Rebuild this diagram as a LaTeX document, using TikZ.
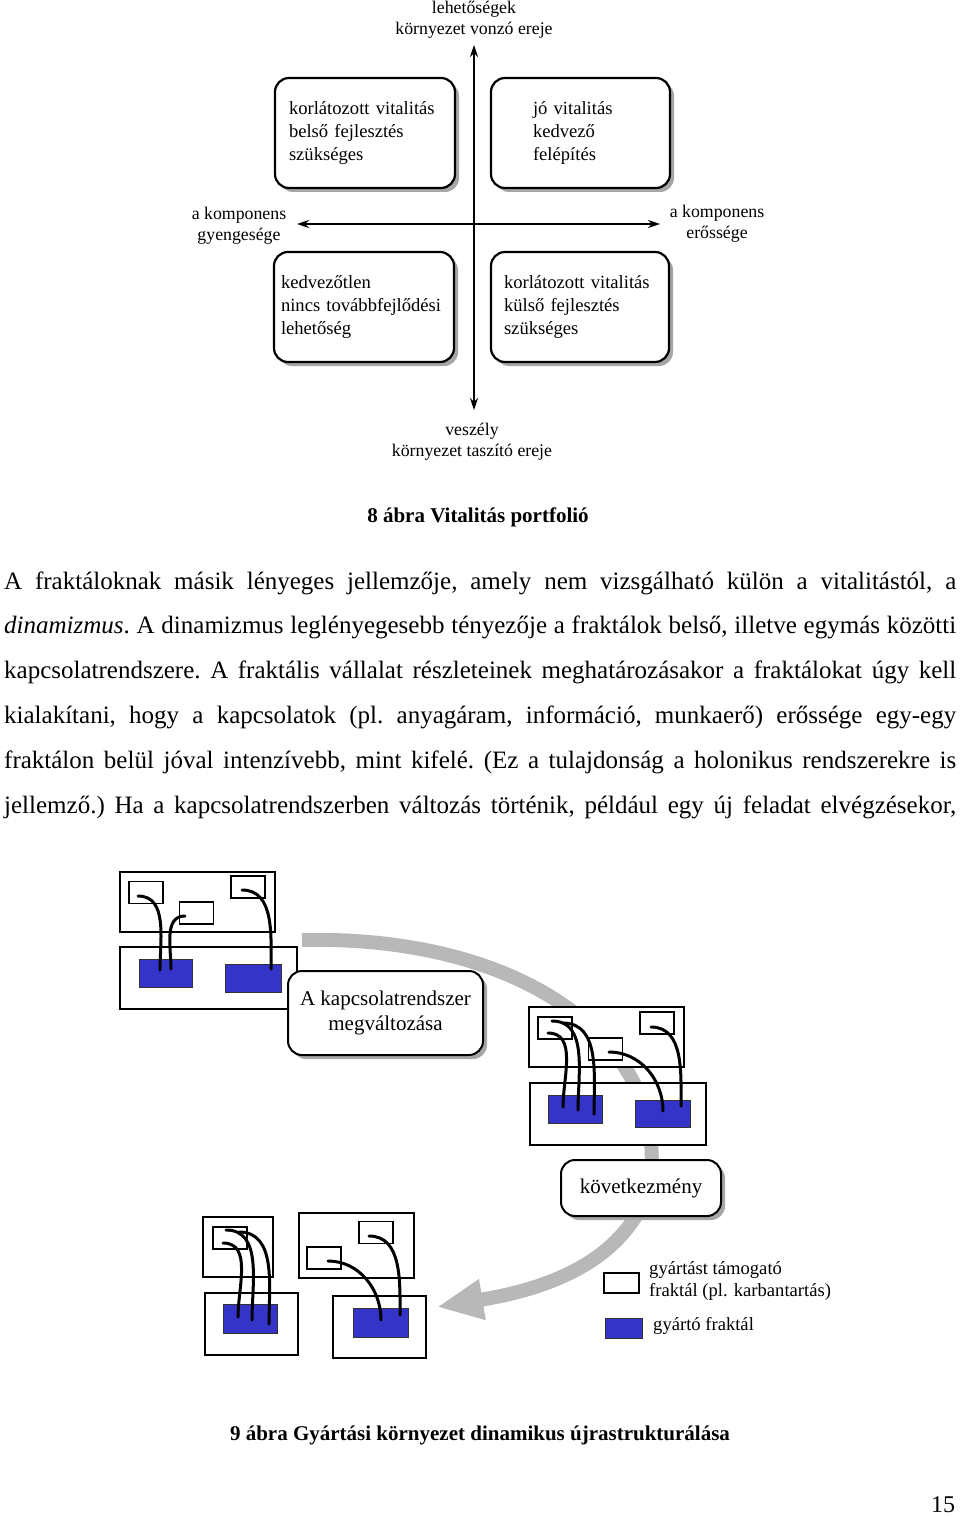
\documentclass[tikz,border=0pt]{standalone}
\usepackage{fontspec}
\setmainfont{Liberation Serif}
\usetikzlibrary{arrows.meta,shadows}
\definecolor{Gyarto}{HTML}{3434C8}
\definecolor{Sav}{HTML}{B8B8B8}
\definecolor{Arnyek}{HTML}{A6A6A6}

\begin{document}
\begin{tikzpicture}[x=1pt,y=-1pt,
  lbl/.style={font=\fontsize{17.8}{21}\selectfont,align=center,inner sep=0},
  qbox/.style={draw,line width=2.2pt,rounded corners=14pt,fill=white,
    minimum width=#1,minimum height=110pt,inner sep=0,align=left,
    font=\fontsize{18.6}{23}\selectfont,
    drop shadow={shadow xshift=4pt,shadow yshift=-4pt,fill=Arnyek,opacity=1}},
  tbox/.style 2 args={draw,line width=2pt,rounded corners=14pt,fill=white,
    minimum width=#1,minimum height=#2,inner sep=0,align=center,
    font=\fontsize{21}{25}\selectfont,
    drop shadow={shadow xshift=4pt,shadow yshift=-4pt,fill=Arnyek,opacity=1}},
  axis/.style={line width=1.4pt,{Stealth[length=12pt,width=8pt]}-{Stealth[length=12pt,width=8pt]}},
  felirat/.style={font=\bfseries\fontsize{21}{25}\selectfont,inner sep=0},
  fr/.style 2 args={draw,fill=white,line width=1.4pt,minimum width=#1,minimum height=#2,inner sep=0},
  sb/.style={draw,fill=white,line width=1.2pt,minimum width=34pt,minimum height=22pt,inner sep=0},
  gy/.style 2 args={draw=black!80,fill=Gyarto,line width=1pt,minimum width=#1,minimum height=#2,inner sep=0},
  link/.style={line width=3pt,line cap=round}]
  \fill[white] (0,0) rectangle (960,1517);
  \useasboundingbox (0,0) rectangle (960,1517);

  % 8. abra: portfolio
  \coordinate (ftop) at (474,45);
  \coordinate (fbot) at (474,410);
  \coordinate (hbal) at (297,224);
  \coordinate (hjobb) at (660,224);
  \draw[axis] (fbot) -- (ftop);
  \draw[axis] (hbal) -- (hjobb);
  \node[lbl] (fel) at (474,20) {lehetőségek\\környezet vonzó ereje};
  \node[lbl] (le) at (472,442) {veszély\\környezet taszító ereje};
  \node[lbl] (gyenge) at (239,225.5) {a komponens\\gyengesége};
  \node[lbl] (eros) at (717,223.5) {a komponens\\erőssége};
  \node[qbox=180pt,text width=152pt] (bf) at (365,133) {korlátozott vitalitás\\belső fejlesztés\\szükséges};
  \node[qbox=179pt,text width=95pt] (jf) at (580.5,133) {jó vitalitás\\kedvező\\felépítés};
  \node[qbox=180pt,text width=166pt] (ba) at (364,307) {kedvezőtlen\\nincs továbbfejlődési\\lehetőség};
  \node[qbox=178pt,text width=152pt] (ja) at (580,307) {korlátozott vitalitás\\külső fejlesztés\\szükséges};
  \node[felirat] (abra8) at (478,517) {8 ábra Vitalitás portfolió};

  \node[anchor=base west,inner sep=0,text width=952pt,align=justify,
    font=\fontsize{25}{44.8}\selectfont] (szoveg) at (4,589)
    {\parindent=0pt\frenchspacing\hyphenpenalty=10000\exhyphenpenalty=10000\parfillskip=0pt
    A fraktáloknak másik lényeges jellemzője, amely nem vizsgálható külön a vitalitástól, a\linebreak
    \textit{dinamizmus}. A dinamizmus leglényegesebb tényezője a fraktálok belső, illetve egymás közötti\linebreak
    kapcsolatrendszere. A fraktális vállalat részleteinek meghatározásakor a fraktálokat úgy kell\linebreak
    kialakítani, hogy a kapcsolatok (pl. anyagáram, információ, munkaerő) erőssége egy-egy\linebreak
    fraktálon belül jóval intenzívebb, mint kifelé. (Ez a tulajdonság a holonikus rendszerekre is\linebreak
    jellemző.) Ha a kapcsolatrendszerben változás történik, például egy új feladat elvégzésekor,\par};

  % 9. abra: ujrastrukturalas
  \coordinate (sav1) at (302,940);
  \coordinate (sav2) at (437,1307);
  \draw[Sav,line width=14pt,-{Triangle[length=46pt,width=38pt]}]
    (sav1) .. controls (520,935) and (670,1040) .. (650,1185)
    .. controls (625,1265) and (540,1290) .. (sav2);

  \node[fr={155pt}{60pt}] (o1) at (197.5,902) {};
  \node[fr={177pt}{62pt}] (o2) at (208.5,978) {};
  \node[fr={155pt}{60pt}] (o3) at (606.5,1037) {};
  \node[fr={176pt}{62pt}] (o4) at (618,1114) {};
  \node[fr={70pt}{60pt}] (o5) at (238,1247) {};
  \node[fr={93pt}{62pt}] (o6) at (251.5,1324) {};
  \node[fr={115pt}{65pt}] (o7) at (356.5,1245.5) {};
  \node[fr={93pt}{62pt}] (o8) at (379.5,1327) {};

  \node[sb] (s1) at (146,892.5) {};
  \node[sb] (s2) at (196.5,913) {};
  \node[sb] (s3) at (248,887) {};
  \node[sb] (s4) at (555,1028) {};
  \node[sb] (s5) at (605.5,1049) {};
  \node[sb] (s6) at (657,1023) {};
  \node[sb] (s7) at (230,1238) {};
  \node[sb] (s8) at (324,1258) {};
  \node[sb] (s9) at (376,1232.5) {};

  \node[gy={53pt}{28pt}] (b1) at (165.5,973) {};
  \node[gy={56pt}{28pt}] (b2) at (253,978) {};
  \node[gy={54pt}{28pt}] (b3) at (575,1109) {};
  \node[gy={55pt}{27pt}] (b4) at (662.5,1113.5) {};
  \node[gy={54pt}{29pt}] (b5) at (250,1318.5) {};
  \node[gy={55pt}{29pt}] (b6) at (380.5,1322.5) {};

  \foreach \a/\ax/\ay/\b/\bx/\by/\o in {
    s1/-8/3.5/b1/-5.5/-3/0, s2/-11.5/3/b1/5.5/-4/180, s3/-6/3/b2/18/-9/0,
    s4/-7/5/b3/-12/-2/0, s4/-3/-7/b3/3/1/0, s4/8/-5/b3/19/5/0,
    s5/3.5/3/b4/0.5/-2.5/0, s6/-6/4/b4/18.5/-7.5/0,
    s7/-7/5/b5/-12/-1.5/0, s7/-4/-8/b5/2/1.5/0, s7/9/-6/b5/19/5.5/0,
    s8/4/3/b6/0.5/-2.5/0, s9/-7/3.5/b6/19.5/-7.5/0}
    \draw[link] ([shift={(\ax,\ay)}]\a.center) to[out=\o,in=90] ([shift={(\bx,\by)}]\b.center);

  \node[tbox={195pt}{84pt}] (valt) at (385.5,1013) {A kapcsolatrendszer\\megváltozása};
  \node[tbox={160pt}{56pt}] (kov) at (641,1188) {következmény};

  \node[sb,minimum width=35pt,minimum height=20pt] (jelf) at (621.5,1283) {};
  \node[gy={37pt}{20pt}] (jelk) at (623.5,1328) {};
  \node[lbl,font=\fontsize{18.6}{21.5}\selectfont,anchor=west,align=left] (jel1) at (649,1281) {gyártást támogató\\fraktál (pl. karbantartás)};
  \node[lbl,font=\fontsize{18.6}{21.5}\selectfont,anchor=west] (jel2) at (653,1326) {gyártó fraktál};
  \node[felirat] (abra9) at (480,1435) {9 ábra Gyártási környezet dinamikus újrastrukturálása};

  \node[font=\fontsize{24}{28}\selectfont,inner sep=0] (oldal) at (943,1505) {15};
\end{tikzpicture}
\end{document}
